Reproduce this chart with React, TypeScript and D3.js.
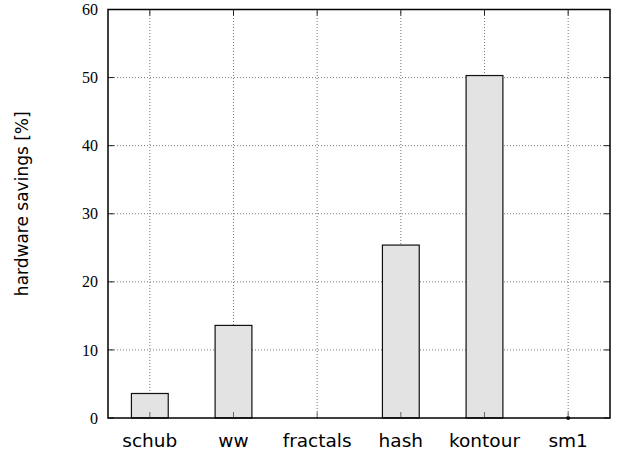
import * as d3 from 'd3';

// benchmark categories and their measured savings
const categories = ["schub", "ww", "fractals", "hash", "kontour", "sm1"];
const savings = [3.6, 13.6, 0, 25.4, 50.3, 0];
// categories drawn as a single point on the axis
const pointCategories = ["sm1"];
const yTicks = [0, 10, 20, 30, 40, 50, 60];

const W = 618;
const H = 453;
const margin = { top: 9.5, right: 8, bottom: 35, left: 108 };

export default function App() {
  const x = d3.scalePoint<string>()
    .domain(categories)
    .range([margin.left, W - margin.right])
    .padding(0.5);

  const y = d3.scaleLinear()
    .domain([0, 60])
    .range([H - margin.bottom, margin.top]);

  const barW = x.step() * 0.44;
  const x0 = margin.left, x1 = W - margin.right;
  const y0 = y(0), y1 = y(60);

  return (
    <svg width={W} height={H} style={{ position: "absolute", left: 0, top: 0 }}>
      <rect x={0} y={0} width={W} height={H} fill="white" />

      {/* 1) dotted grid */}
      <g stroke="#777" strokeWidth={1} strokeDasharray="1,2">
        {yTicks.slice(1, -1).map(t => (
          <line key={"gy" + t} x1={x0} x2={x1} y1={y(t)} y2={y(t)} />
        ))}
        {categories.map(c => (
          <line key={"gx" + c} x1={x(c)} x2={x(c)} y1={y0} y2={y1} />
        ))}
      </g>

      {/* 2) bars */}
      {savings.map((v, i) => v > 0 && (
        <rect key={categories[i]}
          x={(x(categories[i]) || 0) - barW / 2}
          y={y(v)}
          width={barW}
          height={y0 - y(v)}
          fill="#e3e3e3"
          stroke="#111"
          strokeWidth={1.2} />
      ))}

      {pointCategories.map(c => (
        <circle key={"pt" + c} cx={x(c)} cy={y(savings[categories.indexOf(c)])} r={2} fill="#111" />
      ))}

      {/* 3) inward ticks */}
      <g stroke="#222" strokeWidth={1}>
        {yTicks.map(t => (
          <g key={"ty" + t}>
            <line x1={x0} x2={x0 + 6} y1={y(t)} y2={y(t)} />
            <line x1={x1} x2={x1 - 6} y1={y(t)} y2={y(t)} />
          </g>
        ))}
        {categories.map(c => (
          <g key={"tx" + c}>
            <line x1={x(c)} x2={x(c)} y1={y0} y2={y0 - 6} stroke="#666" />
            <line x1={x(c)} x2={x(c)} y1={y1} y2={y1 + 6} />
          </g>
        ))}
      </g>

      {/* 4) frame */}
      <rect x={x0} y={y1} width={x1 - x0} height={y0 - y1} fill="none" stroke="#000" strokeWidth={1.5} />

      {/* 5) labels */}
      {yTicks.map(t => (
        <text key={"ly" + t} x={x0 - 10} y={y(t)} dy="0.35em" textAnchor="end"
          fontFamily="Liberation Serif" fontSize={16} fill="#000">{t}</text>
      ))}
      {categories.map(c => (
        <text key={"lx" + c} x={x(c)} y={447} textAnchor="middle"
          fontFamily="DejaVu Sans" fontSize={18.5} fill="#000">{c}</text>
      ))}
      <text transform={`translate(28,${(y0 + y1) / 2 - 10}) rotate(-90)`} textAnchor="middle"
        fontFamily="DejaVu Sans" fontSize={17} fill="#000">hardware savings [%]</text>
    </svg>
  );
}
